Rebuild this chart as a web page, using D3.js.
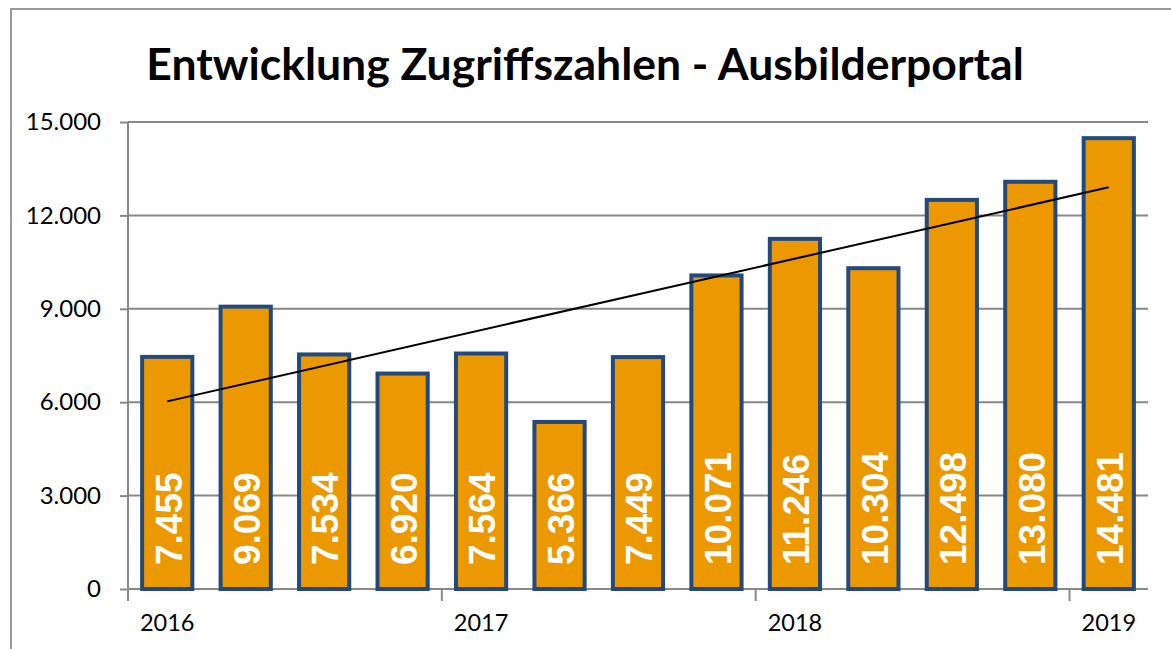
<!DOCTYPE html>
<html>
<head>
<meta charset="utf-8">
<script src="https://cdn.jsdelivr.net/npm/d3@7"></script>
<style>
  body { margin: 0; background: #fff; }
  svg { display: block; }
</style>
</head>
<body>
<svg id="chart" width="1171" height="649"></svg>
<script>
// data
const months = ['2016-01','2016-02','2016-03','2016-04','2017-01','2017-02','2017-03','2017-04',
                '2018-01','2018-02','2018-03','2018-04','2019-01'];
const hits = [7455, 9069, 7534, 6920, 7564, 5366, 7449, 10071, 11246, 10304, 12498, 13080, 14481];
const yearLabels = ['2016', '2017', '2018', '2019'];
const yearStartIdx = [0, 4, 8, 12];
const yTicks = [0, 3000, 6000, 9000, 12000, 15000];

const svg = d3.select('#chart');
const width = +svg.attr('width');
const height = +svg.attr('height');

const margin = {top: 122, left: 128, right: 23, bottom: 60};
const x0 = margin.left, x1 = width - margin.right;
const yBottom = height - margin.bottom;

// outer chart border (right/bottom run off the picture)
svg.append('rect')
    .attr('x', 11).attr('y', 9)
    .attr('width', width + 20).attr('height', height + 20)
    .attr('fill', 'none').attr('stroke', '#9a9a9a').attr('stroke-width', 2);

const x = d3.scaleBand()
    .domain(months)
    .range([x0, x1])
    .paddingInner(0.36)
    .paddingOuter(0.18);

const y = d3.scaleLinear()
    .domain([0, 15000])
    .range([yBottom, margin.top]);

const fmt = d3.formatLocale({decimal: ',', thousands: '.', grouping: [3]}).format(',');

// grid + y axis
const yAxis = svg.append('g')
    .attr('transform', `translate(${x0},0)`)
    .call(d3.axisLeft(y).tickValues(yTicks).tickFormat(fmt).tickSize(8).tickPadding(19));
yAxis.select('.domain').attr('stroke', '#888').attr('stroke-width', 2).attr('d', `M0,${yBottom}V${margin.top}`);
yAxis.selectAll('.tick line').attr('stroke', '#888').attr('stroke-width', 2);
yAxis.selectAll('.tick text')
    .attr('fill', '#000')
    .style('font-family', 'Lato, "Open Sans", sans-serif')
    .style('font-size', '24px');

svg.append('g')
    .selectAll('line')
    .data(yTicks)
    .join('line')
        .attr('x1', x0).attr('x2', x1)
        .attr('y1', d => y(d)).attr('y2', d => y(d))
        .attr('stroke', '#888').attr('stroke-width', 2);

// x axis ticks at year boundaries, labels under first bar of each year
const step = x.step();
const xt = svg.append('g');
xt.selectAll('line')
    .data(yearStartIdx)
    .join('line')
        .attr('x1', d => x0 + d * step).attr('x2', d => x0 + d * step)
        .attr('y1', yBottom).attr('y2', yBottom + 12)
        .attr('stroke', '#888').attr('stroke-width', 2);
xt.selectAll('text')
    .data(yearStartIdx)
    .join('text')
        .attr('x', d => x(months[d]) + x.bandwidth() / 2)
        .attr('y', yBottom + 42)
        .attr('text-anchor', 'middle')
        .style('font-family', 'Lato, "Open Sans", sans-serif')
        .style('font-size', '23.5px')
        .text((d, i) => yearLabels[i]);

// bars
svg.append('g')
    .selectAll('rect')
    .data(hits)
    .join('rect')
        .attr('x', (d, i) => x(months[i]))
        .attr('y', d => y(d))
        .attr('width', x.bandwidth())
        .attr('height', d => yBottom - y(d))
        .attr('fill', '#ec9800')
        .attr('stroke', '#224a7f')
        .attr('stroke-width', 4);

// linear trend line
const n = hits.length;
const mx = d3.mean(d3.range(n));
const my = d3.mean(hits);
const slope = d3.sum(hits, (d, i) => (i - mx) * (d - my)) / d3.sum(d3.range(n), i => (i - mx) ** 2);
const icpt = my - slope * mx;
svg.append('line')
    .attr('x1', x(months[0]) + x.bandwidth() / 2)
    .attr('y1', y(icpt))
    .attr('x2', x(months[n - 1]) + x.bandwidth() / 2)
    .attr('y2', y(icpt + slope * (n - 1)))
    .attr('stroke', '#000').attr('stroke-width', 2);

// value labels, rotated
svg.append('g')
    .selectAll('text')
    .data(hits)
    .join('text')
        .attr('transform', (d, i) => `translate(${x(months[i]) + x.bandwidth() / 2 + 1},${yBottom - 24}) rotate(-90)`)
        .attr('dy', '0.36em')
        .attr('fill', '#fff')
        .style('font-family', '"Liberation Sans", Arial, sans-serif')
        .style('font-weight', 'bold')
        .style('font-size', '37px')
        .text(d => fmt(d));

// title, fitted to the width seen in the picture
const title = svg.append('text')
    .attr('x', 585)
    .attr('y', 80)
    .attr('text-anchor', 'middle')
    .style('font-family', 'Lato, "Open Sans", sans-serif')
    .style('font-weight', 'bold')
    .style('font-size', '48px')
    .text('Entwicklung Zugriffszahlen - Ausbilderportal');
const tw = title.node().getComputedTextLength();
title.style('font-size', (48 * 877 / tw).toFixed(1) + 'px');
</script>
</body>
</html>
